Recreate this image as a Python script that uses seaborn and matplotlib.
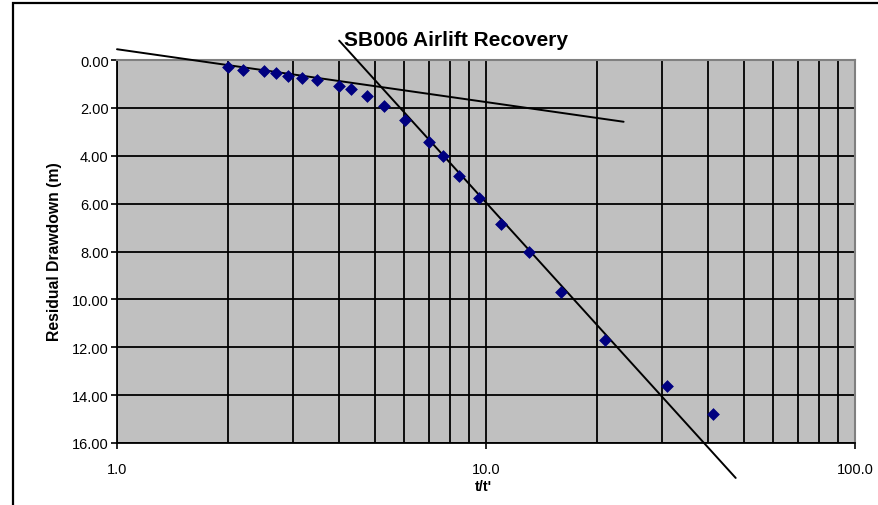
import matplotlib
matplotlib.use("Agg")
import matplotlib.pyplot as plt
import seaborn as sns
import pandas as pd
from matplotlib.patches import Rectangle
from matplotlib.ticker import FixedLocator, NullFormatter, FixedFormatter

# Data
t_ratio = [2.0, 2.2, 2.5, 2.7, 2.9, 3.17, 3.49, 4.0, 4.31, 4.77, 5.28, 6.03,
           7.02, 7.66, 8.47, 9.57, 10.96, 13.1, 15.97, 21.0, 30.95, 41.3]
drawdown = [0.30, 0.40, 0.47, 0.55, 0.65, 0.75, 0.82, 1.07, 1.22, 1.49, 1.91, 2.49,
            3.41, 4.00, 4.83, 5.76, 6.84, 8.01, 9.68, 11.68, 13.60, 14.77]

# Straight-line fits drawn on the chart (end points)
fit1_x = [1.0, 23.6]
fit1_y = [-0.45, 2.58]
fit2_x = [4.0, 47.5]
fit2_y = [-0.81, 17.46]

x_ticks = [1.0, 10.0, 100.0]
x_tick_labels = ["1.0", "10.0", "100.0"]
y_ticks = [0, 2, 4, 6, 8, 10, 12, 14, 16]
y_tick_labels = ["%.2f" % v for v in y_ticks]

df = pd.DataFrame({"t": t_ratio, "s": drawdown})

sns.set_theme(style="white")
plt.rcParams["font.family"] = ["Liberation Sans", "DejaVu Sans"]
plt.rcParams["text.color"] = "black"
plt.rcParams["axes.labelcolor"] = "black"
plt.rcParams["xtick.color"] = "black"
plt.rcParams["ytick.color"] = "black"

W, H = 879, 506
fig = plt.figure(figsize=(W / 100, H / 100), dpi=100)
fig.patch.set_facecolor("white")
ax = fig.add_axes([117 / W, 1 - 444 / H, (855 - 117) / W, (444 - 61) / H])
ax.set_facecolor("#C0C0C0")

ax.set_xscale("log")
ax.set_xlim(1, 100)
ax.set_ylim(16, 0)

# grid
minor = [m * d for d in (1, 10) for m in range(2, 10)]
ax.xaxis.set_major_locator(FixedLocator(x_ticks))
ax.xaxis.set_major_formatter(FixedFormatter(x_tick_labels))
ax.xaxis.set_minor_locator(FixedLocator(minor))
ax.xaxis.set_minor_formatter(NullFormatter())
ax.set_yticks(y_ticks)
ax.set_yticklabels(y_tick_labels)
ax.grid(True, which="both", axis="x", color="black", linewidth=1.3)
ax.grid(True, which="major", axis="y", color="black", linewidth=1.3)
ax.set_axisbelow(True)

ax.tick_params(axis="x", which="major", direction="out", length=4, width=1.2,
               colors="black", labelsize=10.5, pad=10, bottom=True)
ax.tick_params(axis="x", which="minor", length=0)
ax.tick_params(axis="y", which="major", direction="out", length=4, width=1.2,
               colors="black", labelsize=10.5, pad=2, left=True)

for side in ("left", "bottom"):
    ax.spines[side].set_color("black")
    ax.spines[side].set_linewidth(1.3)
for side in ("top", "right"):
    ax.spines[side].set_color("#808080")
    ax.spines[side].set_linewidth(1.5)

# fit lines (extend beyond the plot area as in the reference)
ax.plot(fit1_x, fit1_y, color="black", linewidth=1.4, clip_on=False, zorder=3)
ax.plot(fit2_x, fit2_y, color="black", linewidth=1.4, clip_on=False, zorder=3)

sns.scatterplot(data=df, x="t", y="s", ax=ax, marker="D", s=36,
                color="#000080", edgecolor="#000080", linewidth=0.5,
                zorder=4, clip_on=False, legend=False)

ax.set_xlabel("")
ax.set_ylabel("")
fig.text(483 / W, 1 - 487 / H, "t/t'", ha="center", va="center",
         fontsize=10.5, fontweight="bold")
fig.text(55 / W, 1 - 251.5 / H, "Residual Drawdown (m)", ha="center", va="center",
         rotation=90, fontsize=11.3, fontweight="bold")

fig.text(456.5 / W, 1 - 41 / H, "SB006 Airlift Recovery", ha="center", va="center",
         fontsize=15, fontweight="bold")

# outer chart frame
fig.patches.append(Rectangle((13 / W, -0.1), 1.2, 1.1 - 4 / H,
                             transform=fig.transFigure, fill=False,
                             edgecolor="black", linewidth=1.6))

fig.savefig("out.png", dpi=100)
